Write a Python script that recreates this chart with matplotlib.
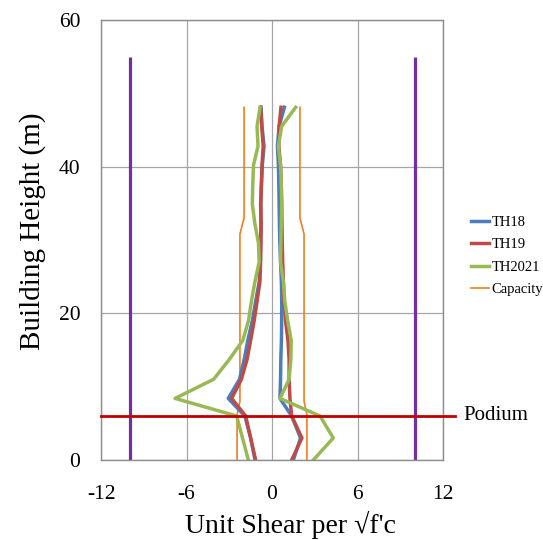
import numpy as np
import matplotlib
matplotlib.use("Agg")
import matplotlib.pyplot as plt

plt.rcParams['font.family'] = ['Liberation Serif', 'DejaVu Serif']
plt.rcParams['axes.unicode_minus'] = False

# floor heights (m)
heights = [0, 3.0, 6.0, 8.4, 11.0, 13.7, 16.3, 19.0, 21.6, 24.3, 27.0,
           29.6, 32.2, 34.9, 37.5, 40.2, 42.8, 45.5, 48.1]

# min / max unit shear envelopes
th18_min = [-1.19, -1.5, -1.9, -3.07, -2.28, -1.95, -1.7, -1.38, -1.15, -0.9,
            -0.82, -0.8, -0.78, -0.8, -0.75, -0.68, -0.56, -0.7, -0.77]
th18_max = [1.5, 2.0, 1.38, 0.56, 0.6, 0.62, 0.66, 0.68, 0.68, 0.66,
            0.6, 0.55, 0.52, 0.5, 0.48, 0.45, 0.38, 0.5, 0.87]
th19_min = [-1.15, -1.5, -1.85, -2.83, -2.15, -1.75, -1.5, -1.25, -1.05, -0.85,
            -0.8, -0.78, -0.76, -0.78, -0.74, -0.7, -0.62, -0.72, -0.8]
th19_max = [1.38, 2.1, 1.38, 1.26, 1.2, 1.2, 1.12, 0.95, 0.85, 0.8,
            0.75, 0.72, 0.7, 0.68, 0.65, 0.6, 0.48, 0.5, 0.63]
th2021_min = [-1.66, -2.07, -2.48, -6.8, -4.1, -3.0, -2.05, -1.65, -1.45, -1.2,
              -0.9, -0.95, -1.2, -1.38, -1.35, -1.3, -0.98, -1.05, -0.84]
th2021_max = [2.9, 4.3, 3.37, 0.56, 1.2, 1.32, 1.35, 1.1, 0.9, 0.8,
              0.6, 0.62, 0.65, 0.68, 0.65, 0.6, 0.44, 0.68, 1.66]

cap_h = [0, 6.2, 8.0, 30.8, 33.0, 48.1]
cap_min = [-2.45, -2.45, -2.25, -2.25, -1.96, -1.96]
cap_max = [2.45, 2.45, 2.25, 2.25, 1.96, 1.96]

limit_x = [-10, 10]
limit_h = [0, 55]
podium_h = 6

fig = plt.figure(figsize=(5.43, 5.40), dpi=100)
ax = fig.add_axes([101/543, 1 - 460/540, 342/543, 440/540])

blue = '#4A7EBB'
red = '#BE4B48'
green = '#98B954'
orange = '#F07F20'
purple = '#7030A0'

for xv in limit_x:
    ax.plot([xv, xv], limit_h, color=purple, lw=2.3, solid_capstyle='butt')

ax.plot(cap_min, cap_h, color=orange, lw=1.2, label='Capacity')
ax.plot(cap_max, cap_h, color=orange, lw=1.2)

ax.plot(th18_min, heights, color=blue, lw=2.5, label='TH18')
ax.plot(th18_max, heights, color=blue, lw=2.5)
ax.plot(th19_min, heights, color=red, lw=2.5, label='TH19')
ax.plot(th19_max, heights, color=red, lw=2.5)
ax.plot(th2021_min, heights, color=green, lw=2.5, label='TH2021')
ax.plot(th2021_max, heights, color=green, lw=2.5)

ax.axhline(podium_h, xmin=0, xmax=(455 - 101) / 342, color='#C00000', lw=2.0,
           clip_on=False, zorder=5)
ax.text(12 + (463 - 443) / 14.25, podium_h, 'Podium', fontsize=15,
        va='center', ha='left')

ax.set_xlim(-12, 12)
ax.set_ylim(0, 60)
ax.set_xticks([-12, -6, 0, 6, 12])
ax.set_yticks([0, 20, 40, 60])
ax.grid(True, color='#A6A6A6', lw=0.9)
ax.set_axisbelow(True)
ax.tick_params(length=0, labelsize=15.5)
ax.tick_params(axis='x', pad=18)
ax.tick_params(axis='y', pad=15)
for s in ax.spines.values():
    s.set_color('#8C8C8C')
    s.set_linewidth(1.0)
ax.set_xlabel('Unit Shear per \u221af\'c', fontsize=20, labelpad=5)
ax.set_ylabel('Building Height (m)', fontsize=21, labelpad=9)
ax.xaxis.label.set_x(0.553)
ax.yaxis.label.set_y(0.52)

h, l = ax.get_legend_handles_labels()
order = [1, 2, 3, 0]
fig.legend([h[i] for i in order], [l[i] for i in order],
           loc='upper left', bbox_to_anchor=(471/543, 1 - 216/540),
           frameon=False, fontsize=10.5, handlelength=1.23, handletextpad=0.2,
           labelspacing=0.62, borderpad=0, borderaxespad=0)

fig.savefig('out.png', dpi=100)
